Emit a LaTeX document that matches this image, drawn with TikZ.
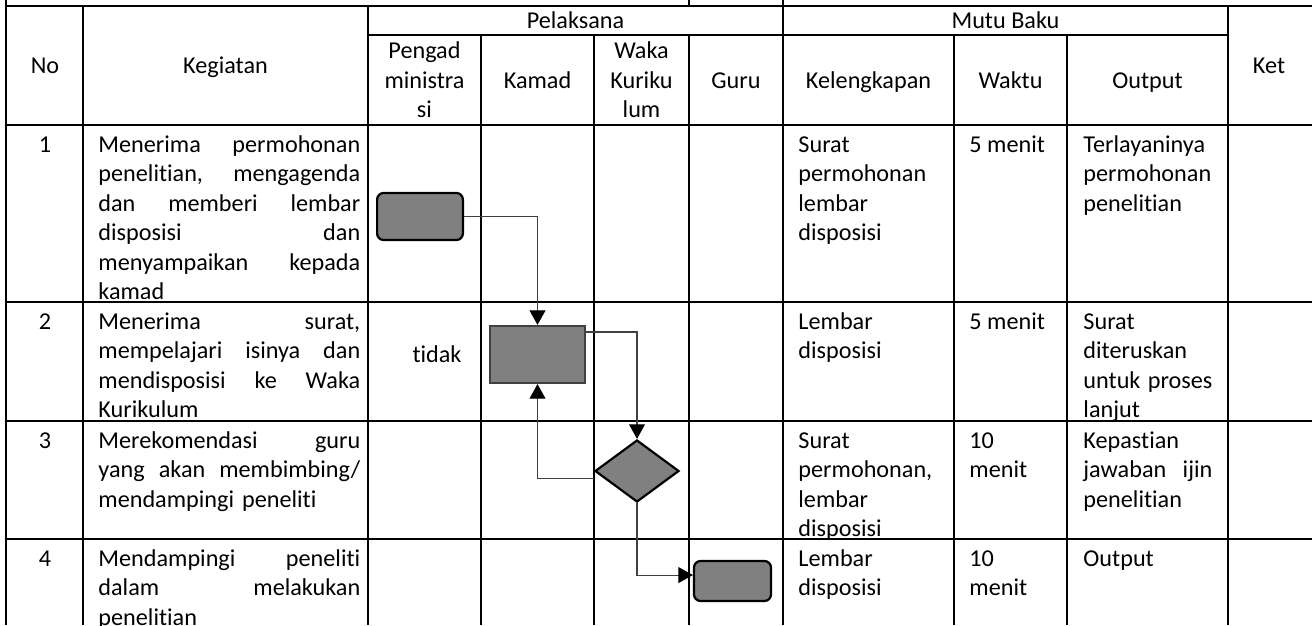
\documentclass[tikz,border=0pt]{standalone}
\usepackage{fontspec}
\setmainfont{Carlito}[Ligatures=NoCommon]
\usepackage{tikz}
\usetikzlibrary{shapes.geometric,arrows.meta}

\tikzset{
  tabline/.style={line width=0.9pt},
  celltext/.style={anchor=north west, inner sep=0pt, align=left, font=\fontsize{11}{13.4}\selectfont},
  headtext/.style={inner sep=0pt, align=center, font=\fontsize{11}{13.4}\selectfont},
  grayfill/.style={fill=black!50, line width=1pt},
  flowline/.style={draw=black!75, line width=0.5pt, -{Triangle[width=7.2pt,length=6.6pt,color=black]}}
}

\begin{document}
\begin{tikzpicture}[x=0.4545pt, y=-0.4545pt]
\useasboundingbox (0,0) rectangle (1312,625);

\draw[tabline] (6,6) -- (1312,6);
\draw[tabline] (368,35) -- (1228,35);
\draw[tabline] (6,125) -- (1312,125);
\draw[tabline] (6,302) -- (1312,302);
\draw[tabline] (6,421) -- (1312,421);
\draw[tabline] (6,539) -- (1312,539);
\draw[tabline] (6,0) -- (6,625);
\draw[tabline] (83,6) -- (83,625);
\draw[tabline] (368,6) -- (368,625);
\draw[tabline] (481,35) -- (481,625);
\draw[tabline] (594,35) -- (594,625);
\draw[tabline] (689,0) -- (689,6);
\draw[tabline] (689,35) -- (689,625);
\draw[tabline] (783,0) -- (783,625);
\draw[tabline] (954,35) -- (954,625);
\draw[tabline] (1067,35) -- (1067,625);
\draw[tabline] (1228,6) -- (1228,625);

\node[headtext, anchor=base](H_no) at (45,73) {No};
\node[headtext, anchor=base](H_keg) at (225.5,73) {Kegiatan};
\node[headtext, anchor=base](H_pel) at (575.5,28) {Pelaksana};
\node[headtext, anchor=base](H_mutu) at (1005.5,28) {Mutu Baku};
\node[headtext, anchor=base](H_ket) at (1269,73) {Ket};
\node[headtext](H_adm) at (424.5,80) {Pengad\\ministra\\si};
\node[headtext, anchor=base](H_kamad) at (537.5,88) {Kamad};
\node[headtext](H_waka) at (641.5,80) {Waka\\Kuriku\\lum};
\node[headtext, anchor=base](H_guru) at (736,88) {Guru};
\node[headtext, anchor=base](H_kel) at (868.5,88) {Kelengkapan};
\node[headtext, anchor=base](H_wkt) at (1010.5,88) {Waktu};
\node[headtext, anchor=base](H_out) at (1147.5,88) {Output};

\node[celltext, anchor=north](N1) at (45,131.4) {\strut 1};
\node[celltext, text width=119pt](K1) at (98,131.4) {\strut Menerima\hfill permohonan\\penelitian,\hfill mengagenda\\dan\hfill memberi\hfill lembar\\disposisi\hfill dan\\menyampaikan\hfill kepada\\kamad};
\node[celltext](L1) at (798,131.4) {\strut Surat\\permohonan\\lembar\\disposisi};
\node[celltext](W1) at (969,131.4) {\strut 5 menit};
\node[celltext, text width=58.6pt](O1) at (1083,131.4) {\strut Terlayaninya\\permohonan\\penelitian};

\node[celltext, anchor=north](N2) at (45,308.4) {\strut 2};
\node[celltext, text width=119pt](K2) at (98,308.4) {\strut Menerima\hfill surat,\\mempelajari\hfill isinya\hfill dan\\mendisposisi\hfill ke\hfill Waka\\Kurikulum};
\node[celltext](L2) at (798,308.4) {\strut Lembar\\disposisi};
\node[celltext](W2) at (969,308.4) {\strut 5 menit};
\node[celltext, text width=58.6pt](O2) at (1083,308.4) {\strut Surat\\diteruskan\\untuk\hfill proses\\lanjut};

\node[celltext, anchor=north](N3) at (45,427.4) {\strut 3};
\node[celltext, text width=119pt](K3) at (98,427.4) {\strut Merekomendasi\hfill guru\\yang\hfill akan\hfill membimbing/\\mendampingi peneliti};
\node[celltext](L3) at (798,427.4) {\strut Surat\\permohonan,\\lembar\\disposisi};
\node[celltext](W3) at (969,427.4) {\strut 10\\menit};
\node[celltext, text width=58.6pt](O3) at (1083,427.4) {\strut Kepastian\\jawaban\hfill ijin\\penelitian};

\node[celltext, anchor=north](N4) at (45,545.4) {\strut 4};
\node[celltext, text width=119pt](K4) at (98,545.4) {\strut Mendampingi\hfill peneliti\\dalam\hfill melakukan\\penelitian};
\node[celltext](L4) at (798,545.4) {\strut Lembar\\disposisi};
\node[celltext](W4) at (969,545.4) {\strut 10\\menit};
\node[celltext](O4) at (1083,545.4) {\strut Output};

\node[draw, grayfill, rounded corners=3pt, minimum width=39pt, minimum height=21.4pt, inner sep=0pt](B1) at (420,216.5) {};
\node[draw=black!75, grayfill, minimum width=43.2pt, minimum height=25.9pt, inner sep=0pt](B2) at (537.5,354.5) {};
\node[draw, grayfill, diamond, aspect=1.35, minimum width=38.2pt, minimum height=28.2pt, inner sep=0pt](D3) at (637,471) {};
\node[draw, grayfill, rounded corners=3pt, minimum width=35pt, minimum height=18.2pt, inner sep=0pt](B4) at (732.5,581) {};
\node[headtext](tidak) at (437,354) {tidak};

\draw[flowline] (B1.east) -| (B2.north);
\draw[flowline] ([yshift=-3.2pt]B2.north east) -| (D3.north);
\draw[flowline] ([yshift=-3.6pt]D3.west) -| (B2.south);
\draw[flowline] (D3.south) |- ([yshift=2.7pt]B4.west);

\end{tikzpicture}
\end{document}
